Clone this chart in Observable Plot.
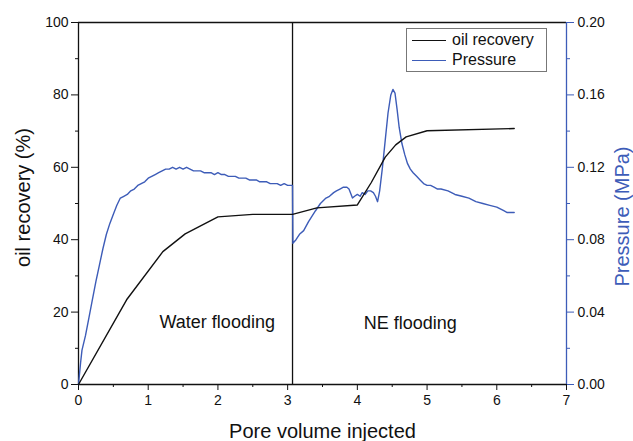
<!DOCTYPE html>
<html>
<head>
<meta charset="utf-8">
<script src="https://cdn.jsdelivr.net/npm/d3@7"></script>
<script src="https://cdn.jsdelivr.net/npm/@observablehq/plot@0.6"></script>
<style>
  html, body { margin: 0; padding: 0; background: #fff; }
  #wrap { position: relative; width: 633px; height: 441px; font-family: "Liberation Sans", Arial, sans-serif; }
  #legend { position: absolute; left: 406px; top: 28px; width: 139px; height: 42px; border: 1px solid #777; background: #fff; font-size: 16px; color: #111; }
  .row { position: absolute; left: 0; height: 20px; display: flex; align-items: center; }
  .sw { width: 34px; height: 0; border-top: 1.5px solid; margin-left: 5px; margin-right: 6px; }
</style>
</head>
<body>
<div id="wrap"></div>
<script>
// ---- data ----
const recoveryPV  = [0, 0.69, 1.21, 1.53, 2.0, 2.5, 3.07, 3.42, 4.0, 4.2, 4.4, 4.55, 4.7, 5.0, 6.25];
const recoveryPct = [0, 23.4, 36.7, 41.6, 46.3, 47.0, 47.0, 48.8, 49.6, 55.8, 62.8, 66.2, 68.4, 70.1, 70.7];

const pressurePV = [
  0.00, 0.03, 0.05, 0.10, 0.15, 0.20, 0.25, 0.30, 0.35, 0.40, 0.45, 0.50, 0.55, 0.60, 0.65, 0.70,
  0.75, 0.80, 0.85, 0.90, 0.95, 1.00, 1.05, 1.10, 1.15, 1.20, 1.25, 1.30, 1.35, 1.40, 1.45, 1.50,
  1.55, 1.60, 1.65, 1.70, 1.75, 1.80, 1.85, 1.90, 1.95, 2.00, 2.05, 2.10, 2.15, 2.20, 2.25, 2.30,
  2.35, 2.40, 2.45, 2.50, 2.55, 2.60, 2.65, 2.70, 2.75, 2.80, 2.85, 2.90, 2.95, 3.00, 3.05, 3.07,
  3.075, 3.12, 3.17, 3.23, 3.30, 3.35, 3.40, 3.47, 3.55, 3.60, 3.66, 3.70, 3.75, 3.80, 3.85, 3.88,
  3.93, 3.96, 4.00, 4.04, 4.07, 4.11, 4.15, 4.19, 4.23, 4.26, 4.29, 4.32, 4.36, 4.40, 4.44, 4.48,
  4.51, 4.54, 4.57, 4.60, 4.64, 4.68, 4.72, 4.76, 4.80, 4.85, 4.90, 4.95, 5.00, 5.05, 5.10, 5.15,
  5.20, 5.30, 5.40, 5.50, 5.60, 5.70, 5.80, 5.90, 6.00, 6.05, 6.10, 6.15, 6.20, 6.25
];
const pressureMPa = [
  0.000, 0.012, 0.019, 0.027, 0.037, 0.047, 0.057, 0.066, 0.075, 0.083, 0.089, 0.094, 0.099, 0.103, 0.104, 0.105,
  0.107, 0.108, 0.110, 0.111, 0.112, 0.114, 0.115, 0.116, 0.117, 0.118, 0.119, 0.119, 0.120, 0.119, 0.120, 0.119,
  0.120, 0.119, 0.118, 0.118, 0.118, 0.117, 0.117, 0.117, 0.116, 0.117, 0.116, 0.116, 0.115, 0.115, 0.115, 0.114,
  0.114, 0.114, 0.113, 0.113, 0.113, 0.112, 0.112, 0.112, 0.111, 0.111, 0.111, 0.110, 0.111, 0.110, 0.110, 0.110,
  0.078, 0.080, 0.083, 0.085, 0.090, 0.093, 0.096, 0.100, 0.103, 0.104, 0.106, 0.107, 0.108, 0.109, 0.109, 0.108,
  0.103, 0.104, 0.105, 0.104, 0.106, 0.105, 0.107, 0.107, 0.106, 0.104, 0.101, 0.107, 0.120, 0.135, 0.150, 0.160,
  0.163, 0.161, 0.152, 0.142, 0.133, 0.127, 0.122, 0.119, 0.117, 0.115, 0.113, 0.111, 0.110, 0.110, 0.109, 0.108,
  0.108, 0.107, 0.105, 0.104, 0.103, 0.101, 0.100, 0.099, 0.098, 0.097, 0.096, 0.095, 0.095, 0.095
];

const xMajorTicks = [0, 1, 2, 3, 4, 5, 6, 7];
const xMinorTicks = [0.5, 1.5, 2.5, 3.5, 4.5, 5.5, 6.5];
const yMajorTicks = [0, 20, 40, 60, 80, 100];
const yMinorTicks = [10, 30, 50, 70, 90];
const pMajorTicks = [0, 0.04, 0.08, 0.12, 0.16, 0.20];
const pMinorTicks = [0.02, 0.06, 0.10, 0.14, 0.18];
const pMax = 0.20;     // right axis top
const yMax = 100;      // left axis top
const switchPV = 3.07; // water -> NE flooding
const phaseLabels = ["Water flooding", "NE flooding"];
const phaseLabelX = [1.99, 4.76];
const phaseLabelY = [17.1, 16.9];

const blue = "#3d5cb8";
const toY = p => p * yMax / pMax;

const recovery = recoveryPV.map((x, i) => ({x, y: recoveryPct[i]}));
const pressure = pressurePV.map((x, i) => ({x, y: toY(pressureMPa[i])}));
const phases = phaseLabels.map((t, i) => ({t, x: phaseLabelX[i], y: phaseLabelY[i]}));

const chart = Plot.plot({
  width: 633,
  height: 441,
  marginLeft: 78,
  marginRight: 67,
  marginTop: 22,
  marginBottom: 57,
  style: {fontFamily: "'Liberation Sans', Arial, sans-serif", fontSize: "14px", color: "#111", background: "#fff"},
  x: {domain: [0, 7]},
  y: {domain: [0, yMax]},
  marks: [
    // axes: left
    Plot.axisY({ticks: yMajorTicks, tickSize: 7, tickPadding: 3, tickFormat: d => String(d), label: null, fontSize: 14}),
    Plot.axisY({ticks: yMinorTicks, tickSize: 3, tickFormat: () => "", label: null}),
    // bottom
    Plot.axisX({ticks: xMajorTicks, tickSize: 6, tickPadding: 5, tickFormat: d => String(d), label: null, fontSize: 14}),
    Plot.axisX({ticks: xMinorTicks, tickSize: 3, tickFormat: () => "", label: null}),
    // right (pressure)
    Plot.axisY({anchor: "right", ticks: pMajorTicks.map(toY), tickSize: 7, tickFormat: () => "", label: null, color: blue}),
    Plot.axisY({anchor: "right", ticks: pMinorTicks.map(toY), tickSize: 3, tickFormat: () => "", label: null, color: blue}),
    Plot.axisY({anchor: "right", ticks: pMajorTicks.map(toY), tickSize: 0, tickPadding: 11, tickFormat: d => (d * pMax / yMax).toFixed(2), label: null, color: "#111", fontSize: 14}),
    // frame lines
    Plot.ruleY([yMax], {stroke: "#111", strokeWidth: 1.3}),
    Plot.ruleY([0], {stroke: "#111", strokeWidth: 1.3}),
    Plot.ruleX([0], {stroke: "#111", strokeWidth: 1.3}),
    Plot.ruleX([7], {stroke: blue, strokeWidth: 1.3}),
    // divider
    Plot.ruleX([switchPV], {stroke: "#111", strokeWidth: 1.3}),
    // data
    Plot.line(pressure, {x: "x", y: "y", stroke: blue, strokeWidth: 1.4}),
    Plot.line(recovery, {x: "x", y: "y", stroke: "#111", strokeWidth: 1.4}),
    // phase labels
    Plot.text(phases, {x: "x", y: "y", text: "t", fontSize: 18, fill: "#111"}),
    // axis titles
    Plot.text(["oil recovery (%)"], {frameAnchor: "left", textAnchor: "middle", lineAnchor: "middle", rotate: -90, dx: -55, dy: -6, fontSize: 20, fill: "#111"}),
    Plot.text(["Pressure (MPa)"], {frameAnchor: "right", textAnchor: "middle", lineAnchor: "middle", rotate: -90, dx: 56, dy: 13, fontSize: 20, fill: blue}),
    Plot.text(["Pore volume injected"], {frameAnchor: "bottom", textAnchor: "middle", lineAnchor: "middle", dy: 47, fontSize: 20, fill: "#111"})
  ]
});

const wrap = document.getElementById("wrap");
wrap.appendChild(chart);

const legend = document.createElement("div");
legend.id = "legend";
legend.innerHTML =
  `<div class="row" style="top:1px"><span class="sw" style="border-color:#111"></span><span>oil recovery</span></div>` +
  `<div class="row" style="top:21px"><span class="sw" style="border-color:${blue}"></span><span>Pressure</span></div>`;
wrap.appendChild(legend);
</script>
</body>
</html>
